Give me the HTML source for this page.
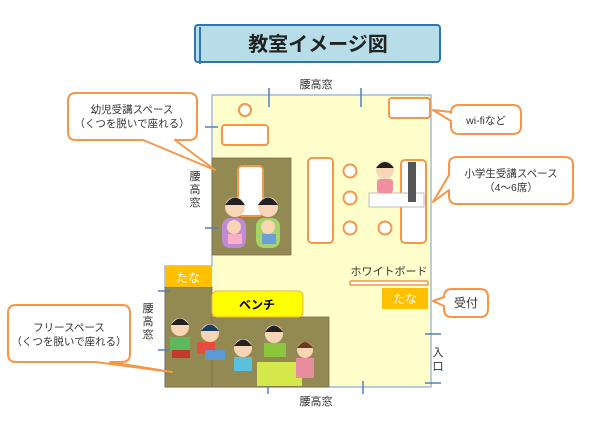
<!DOCTYPE html>
<html><head><meta charset="utf-8"><style>
body{margin:0;background:#fff;}
svg{display:block;font-family:"Liberation Sans","Noto Sans CJK JP",sans-serif;}
</style></head><body>
<svg width="610" height="423" viewBox="0 0 610 423" xmlns="http://www.w3.org/2000/svg">
<!-- title -->
<rect x="195" y="25" width="245" height="37" fill="#b7dde8" stroke="#2e75b6" stroke-width="2" rx="3"/>
<line x1="200" y1="27" x2="200" y2="64" stroke="#2e75b6" stroke-width="2"/>
<text x="318" y="51" font-size="20" text-anchor="middle" fill="#222" font-weight="bold">教室イメージ図</text>

<!-- room -->
<path d="M212 95 H431 V387 H165 V266 H212 Z" fill="#ffffcc" stroke="#8eaadb" stroke-width="1.2"/>
<rect x="212" y="158" width="79" height="97" fill="#938953" stroke="#7a7050" stroke-width="0.8"/>
<rect x="165" y="287" width="47" height="100" fill="#938953" stroke="#7a7050" stroke-width="0.8"/>
<rect x="212" y="317" width="117" height="70" fill="#938953" stroke="#7a7050" stroke-width="0.8"/>
<rect x="165" y="266" width="47" height="21" fill="#ffc000"/>
<text x="188" y="282" font-size="12" fill="#fff" text-anchor="middle">たな</text>
<rect x="212" y="291" width="91" height="26" rx="5" fill="#ffff00" stroke="#f7b046" stroke-width="1"/>
<text x="257" y="309" font-size="12" font-weight="bold" text-anchor="middle">ベンチ</text>

<!-- windows ticks -->
<g stroke="#4f81bd" stroke-width="1.5">
<line x1="269" y1="88" x2="269" y2="107"/><line x1="361" y1="88" x2="361" y2="107"/>
<line x1="205" y1="127" x2="218" y2="127"/><line x1="205" y1="228" x2="218" y2="228"/>
<line x1="158" y1="291" x2="170" y2="291"/><line x1="158" y1="350" x2="170" y2="350"/>
<line x1="268" y1="382" x2="268" y2="394"/><line x1="363" y1="381" x2="363" y2="394"/>
<line x1="425" y1="334" x2="441" y2="334"/><line x1="425" y1="383" x2="441" y2="383"/>
</g>
<g font-size="11" fill="#333" text-anchor="middle">
<text x="316" y="88">腰高窓</text>
<text x="316" y="405">腰高窓</text>
<text x="195" y="180">腰</text><text x="195" y="193">高</text><text x="195" y="206">窓</text>
<text x="148" y="312">腰</text><text x="148" y="325">高</text><text x="148" y="338">窓</text>
<text x="438" y="356">入</text><text x="438" y="370">口</text>
<text x="389" y="275">ホワイトボード</text>
</g>

<!-- furniture -->
<g fill="#fff" stroke="#f79646" stroke-width="2">
<circle cx="245" cy="110" r="6"/>
<rect x="222" y="125" width="46" height="20" rx="3"/>
<rect x="389" y="98" width="41" height="20" rx="3"/>
<rect x="308" y="158" width="25" height="85" rx="4"/>
<circle cx="350" cy="171" r="6.5"/><circle cx="350" cy="198" r="6.5"/>
<circle cx="350" cy="228" r="6.5"/><circle cx="385" cy="228" r="6.5"/>
<rect x="401" y="160" width="25" height="83" rx="4"/>
<rect x="238" y="166" width="25" height="50" rx="4"/>
<rect x="350" y="281" width="78" height="4" rx="1" stroke-width="1.5"/>
</g>
<rect x="382" y="288" width="46" height="21" fill="#ffc000"/>
<text x="405" y="303" font-size="12" fill="#fff" text-anchor="middle">たな</text>

<!-- kid at computer -->
<rect x="369" y="193" width="55" height="14" fill="#fff" stroke="#bbb"/>
<rect x="408" y="162" width="8" height="40" fill="#555"/>
<circle cx="385" cy="170" r="9" fill="#f9d5b5"/>
<path d="M376 168 Q385 156 394 168" fill="#222"/>
<rect x="377" y="179" width="16" height="14" fill="#f28da0" rx="3"/>

<!-- toddler area figures -->
<circle cx="235" cy="207" r="10" fill="#f9d5b5"/><path d="M225 205 Q235 190 245 205" fill="#222"/>
<circle cx="268" cy="207" r="10" fill="#f9d5b5"/><path d="M258 205 Q268 190 278 205" fill="#222"/>
<rect x="222" y="218" width="24" height="30" rx="8" fill="#c08ad6"/>
<rect x="256" y="218" width="24" height="30" rx="8" fill="#a7d46a"/>
<circle cx="234" cy="227" r="7" fill="#f9d5b5"/><circle cx="268" cy="227" r="7" fill="#f9d5b5"/>
<rect x="228" y="234" width="14" height="10" fill="#f8b0c8"/><rect x="262" y="234" width="14" height="10" fill="#6a9fd8"/>

<!-- free space figures -->
<circle cx="180" cy="327" r="9" fill="#f9d5b5"/><path d="M171 325 Q180 312 189 325" fill="#222"/>
<rect x="170" y="337" width="20" height="14" fill="#5cb85c"/><rect x="172" y="350" width="18" height="8" fill="#c0392b"/>
<circle cx="210" cy="333" r="9" fill="#f9d5b5"/><path d="M201 331 Q210 318 219 331" fill="#1a3e6b"/>
<rect x="197" y="342" width="18" height="12" fill="#e74c3c"/><rect x="205" y="350" width="20" height="10" fill="#5b9bd5"/>
<circle cx="243" cy="348" r="9" fill="#f9d5b5"/><path d="M234 346 Q243 333 252 346" fill="#222"/>
<rect x="234" y="357" width="18" height="14" fill="#5bc0de"/>
<circle cx="274" cy="334" r="9" fill="#f9d5b5"/><path d="M265 332 Q274 319 283 332" fill="#222"/>
<rect x="264" y="343" width="22" height="14" fill="#8cc63f"/>
<rect x="257" y="362" width="45" height="24" fill="#d4e84a"/>
<circle cx="305" cy="350" r="8" fill="#f9d5b5"/><path d="M297 348 Q305 336 313 348" fill="#6b3a1e"/>
<rect x="296" y="358" width="18" height="20" fill="#e88ca0"/>

<!-- callouts -->
<g fill="#fff" stroke="#f79646" stroke-width="2" stroke-linejoin="round">
<path d="M76 93 H189 Q197 93 197 101 V132 Q197 140 189 140 H175 L215 170 L143 140 H76 Q68 140 68 132 V101 Q68 93 76 93 Z"/>
<path d="M16 305 H122 Q130 305 130 313 V354 Q130 362 122 362 H110 L172 372 L95 362 H16 Q8 362 8 354 V313 Q8 305 16 305 Z"/>
<path d="M459 105 H513 Q521 105 521 113 V126 Q521 134 513 134 H459 Q451 134 451 126 V121 L433 110 L451 112 V113 Q451 105 459 105 Z"/>
<path d="M457 157 H565 Q573 157 573 165 V196 Q573 204 565 204 H457 Q449 204 449 196 V190 L433 202 L449 175 V165 Q449 157 457 157 Z"/>
<path d="M452 289 H480 Q488 289 488 297 V309 Q488 317 480 317 H452 Q444 317 444 309 V306 L433 301 L444 297 Q444 289 452 289 Z"/>
</g>
<g font-size="10.5" fill="#333" text-anchor="middle">
<text x="132" y="113">幼児受講スペース</text>
<text x="132" y="127">（くつを脱いで座れる）</text>
<text x="69" y="331">フリースペース</text>
<text x="69" y="345">（くつを脱いで座れる）</text>
<text x="486" y="124">wi-fiなど</text>
<text x="511" y="177">小学生受講スペース</text>
<text x="511" y="191">（4～6席）</text>
<text x="466" y="307" font-size="12">受付</text>
</g>
</svg>
</body></html>
